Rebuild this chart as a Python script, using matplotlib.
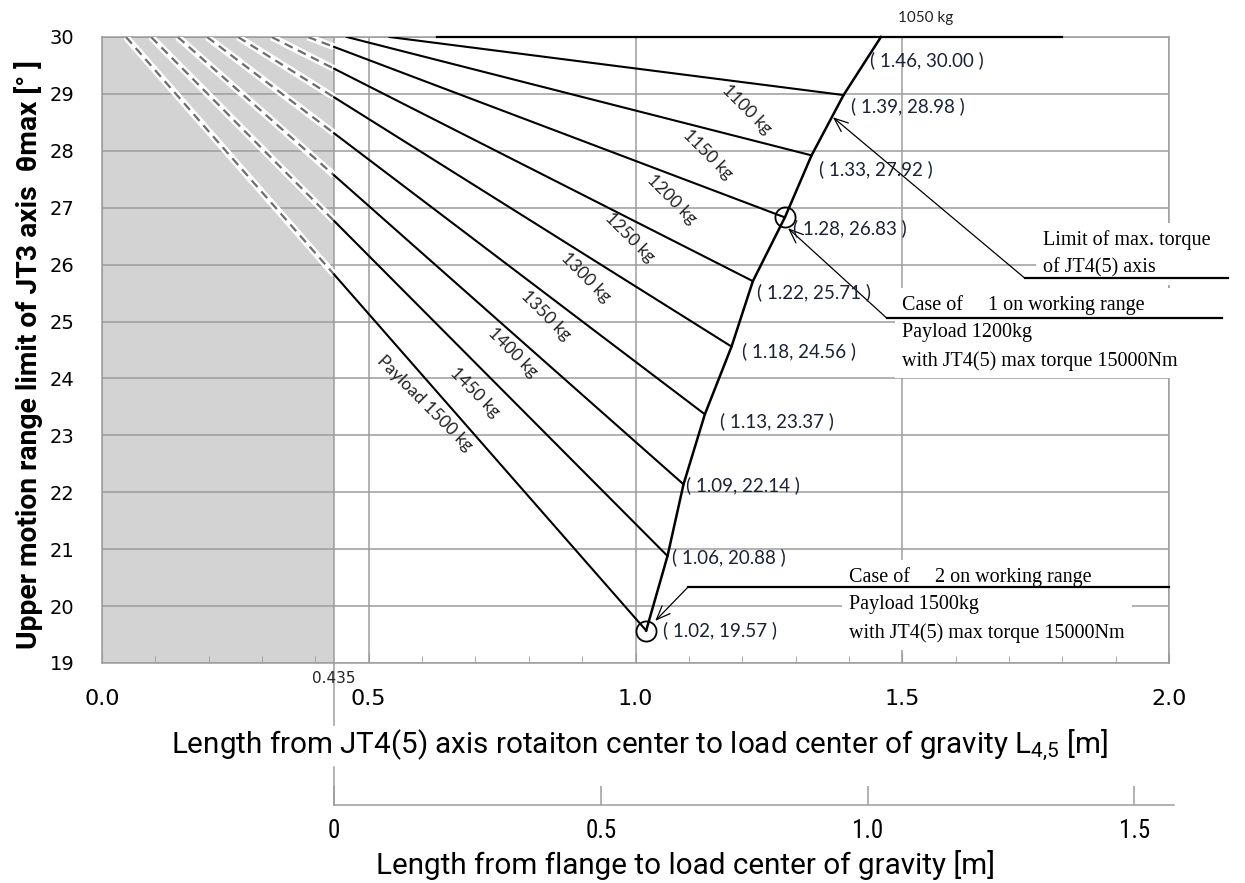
import matplotlib.pyplot as plt
import matplotlib.transforms as mtransforms
from matplotlib import font_manager
import numpy as np

# payload lines: each leaves theta=30 at start_L and ends on the torque-limit curve
payloads = [1100, 1150, 1200, 1250, 1300, 1350, 1400, 1450, 1500]
start_L = [0.539, 0.459, 0.386, 0.318, 0.255, 0.197, 0.142, 0.092, 0.045]
end_L = [1.39, 1.33, 1.28, 1.22, 1.18, 1.13, 1.09, 1.06, 1.02]
end_theta = [28.98, 27.92, 26.83, 25.71, 24.56, 23.37, 22.14, 20.88, 19.57]
top_theta = 30.0

# 1050 kg runs along theta=30
line_1050_L = [0.627, 1.80]
limit_top_L = 1.46

flange_offset = 0.435  # L45 of the flange

# marked cases (circles)
case_L = [1.28, 1.02]
case_theta = [26.83, 19.57]

flange_ticks = [0, 0.5, 1.0, 1.5]
flange_labels = ['0', '0.5', '1.0', '1.5']

px = 1 / 1.389  # pixel -> point at 100 dpi


# look for a narrow sans family for the secondary tick labels
def find_narrow():
    want = ['Liberation Sans Narrow', 'DejaVu Sans Condensed', 'Roboto Condensed',
            'Open Sans Condensed', 'Noto Sans Condensed', 'Arial Narrow']
    names = {f.name for f in font_manager.fontManager.ttflist}
    for n in want:
        if n in names:
            return n
    return None


nname = find_narrow()
tick2_family = [nname, 'DejaVu Sans'] if nname else ['DejaVu Sans']
tick2_size = 18 if nname else 15

label_family = ['Roboto', 'DejaVu Sans']
serif = ['Liberation Serif', 'DejaVu Serif']
calib = ['Lato', 'DejaVu Sans']
plt.rcParams['mathtext.fontset'] = 'custom'
plt.rcParams['mathtext.rm'] = 'Roboto'
plt.rcParams['mathtext.it'] = 'Roboto'

W, H = 1245, 883
fig = plt.figure(figsize=(W / 100, H / 100), dpi=100)
ax = fig.add_axes([102 / W, 1 - 663 / H, 1067 / W, 626 / H])
ax.set_xlim(0, 2.0)
ax.set_ylim(19, 30)

grid_c = '#9c9c9c'
ax.axvspan(0, flange_offset, color='#d3d3d3', zorder=0.2, lw=0)
ax.set_axisbelow(True)
ax.grid(True, color=grid_c, lw=1.1)
ax.axvline(flange_offset, color=grid_c, lw=1.1, zorder=0.6)
for s in ax.spines.values():
    s.set_color(grid_c)
    s.set_linewidth(1.1)

ax.set_xticks([0.0, 0.5, 1.0, 1.5, 2.0])
ax.set_xticklabels(['0.0', '0.5', '1.0', '1.5', '2.0'])
ax.set_xticks(np.arange(0, 2.01, 0.1), minor=True)
ax.set_yticks(range(19, 31))
ax.tick_params(axis='x', which='both', direction='in', color=grid_c, labelsize=16, pad=19)
ax.tick_params(axis='x', which='major', length=7)
ax.tick_params(axis='x', which='minor', length=5)
ax.tick_params(axis='y', length=0, labelsize=14, pad=20)

# payload lines: dashed inside the grey zone, solid outside
for x0, x1, y1 in zip(start_L, end_L, end_theta):
    if x0 < flange_offset:
        yc = top_theta + (y1 - top_theta) * (flange_offset - x0) / (x1 - x0)
        ax.plot([x0, flange_offset], [top_theta, yc], color='white', lw=5, solid_capstyle='butt', zorder=3)
        ax.plot([x0, flange_offset], [top_theta, yc], color='#6e6e6e', lw=1.6, ls=(0, (4, 2.6)), zorder=3.1)
        ax.plot([flange_offset, x1], [yc, y1], color='black', lw=1.5, zorder=3.2)
    else:
        ax.plot([x0, x1], [top_theta, y1], color='black', lw=1.5, zorder=3.2)

ax.plot(line_1050_L, [top_theta, top_theta], color='black', lw=1.6, zorder=3.2, clip_on=False)

# torque limit curve
lim_x = [limit_top_L] + end_L
lim_y = [top_theta] + end_theta
ax.plot(lim_x, lim_y, color='black', lw=1.8, zorder=3.3, clip_on=False)

ax.plot(case_L, case_theta, 'o', ms=14.5, mfc='none', mec='black', mew=1.3, zorder=3.4)

# coordinate labels
lab_off = [(-11, 23), (7, 11), (7, 14), (8, 11), (4, 11), (10, 5), (15, 7), (2, 1), (4, 1), (17, 0)]
for x, y, (dx, dy) in zip(lim_x, lim_y, lab_off):
    ax.annotate(f'( {x:.2f}, {y:.2f} )', (x, y), xytext=(dx * px, -dy * px), textcoords='offset points',
                ha='left', va='center', fontsize=13.5, family=calib, color='#1b2136', zorder=5,
                annotation_clip=False)

# payload names along the lines
kg_pos = [(1.209, 28.72), (1.136, 27.93), (1.068, 27.14), (0.990, 26.47), (0.907, 25.78),
          (0.832, 25.11), (0.769, 24.45), (0.699, 23.76), (0.605, 23.57)]
for p, (x, y) in zip(payloads, kg_pos):
    txt = f'{p} kg' if p != 1500 else 'Payload 1500 kg'
    ax.text(x, y, txt, rotation=-45, rotation_mode='anchor', ha='center', va='center',
            fontsize=12.5, family=calib, color='#222222', zorder=5)
ax.text(1.543, 30.33, '1050 kg', ha='center', va='center', fontsize=11, family=calib,
        color='#222222', clip_on=False)

# call-outs
box = dict(boxstyle='square,pad=0.35', fc='white', ec='none')
arrow = dict(arrowstyle='->,head_length=1.0,head_width=0.4', lw=0.9, color='black', shrinkA=0, shrinkB=0)

ax.text(1.764, 26.19, 'Limit of max. torque\nof JT4(5) axis', ha='left', va='center',
        fontsize=14.5, family=serif, linespacing=1.6, bbox=box, zorder=4, clip_on=False)
ax.plot([1.730, 2.11], [25.76, 25.76], color='black', lw=1.6, clip_on=False, zorder=4.5)
ax.annotate('', xy=(1.370, 28.59), xytext=(1.730, 25.76), arrowprops=arrow, zorder=4.5)

ax.text(1.500, 24.80, 'Case of     1 on working range\nPayload 1200kg\nwith JT4(5) max torque 15000Nm',
        ha='left', va='center', fontsize=14.5, family=serif, linespacing=1.6, bbox=box, zorder=4,
        clip_on=False)
ax.plot([1.471, 2.099], [25.06, 25.06], color='black', lw=1.6, clip_on=False, zorder=4.5)
ax.annotate('', xy=(1.286, 26.64), xytext=(1.471, 25.06), arrowprops=arrow, zorder=4.5)

ax.text(1.400, 20.02, 'Case of     2 on working range\nPayload 1500kg\nwith JT4(5) max torque 15000Nm',
        ha='left', va='center', fontsize=14.5, family=serif, linespacing=1.6, bbox=box, zorder=4,
        clip_on=False)
ax.plot([1.098, 2.0], [20.33, 20.33], color='black', lw=1.6, clip_on=False, zorder=4.5)
ax.annotate('', xy=(1.037, 19.74), xytext=(1.098, 20.33), arrowprops=arrow, zorder=4.5)

# flange-offset marker below the axis
trans = mtransforms.blended_transform_factory(ax.transData, ax.transAxes)
ax.text(flange_offset, -0.024, '0.435', transform=trans, ha='center', va='center', fontsize=11,
        family=['DejaVu Sans'], color='#222222')
ax.plot([flange_offset, flange_offset], [0, -0.099], transform=trans, color=grid_c, lw=1.1, clip_on=False)
ax.plot([flange_offset, flange_offset], [-0.166, -0.227], transform=trans, color=grid_c, lw=1.1, clip_on=False)

# second axis: length from flange (same scale, shifted by the flange offset)
ax2 = fig.add_axes([102 / W, 1 - 805 / H, 1067 / W, 1e-4])
ax2.set_xlim(ax.get_xlim()[0] - flange_offset, ax.get_xlim()[1] - flange_offset)
ax2.set_yticks([])
ax2.patch.set_visible(False)
for k in ('top', 'left', 'right'):
    ax2.spines[k].set_visible(False)
ax2.spines['bottom'].set_color(grid_c)
ax2.spines['bottom'].set_linewidth(1.1)
ax2.spines['bottom'].set_bounds(0, 1.575)
ax2.tick_params(axis='x', direction='in', length=14, color=grid_c, pad=10, width=1.1,
                labelsize=tick2_size)
ax2.set_xticks(flange_ticks)
ax2.set_xticklabels(flange_labels, fontsize=tick2_size, family=tick2_family)

ax.set_xlabel('Length from JT4(5) axis rotaiton center to load center of gravity L$_{4{,}5}$ [m]',
              fontsize=21.3, family=label_family)
ax.xaxis.set_label_coords(0.504, -0.131)
ax.xaxis.label.set_va('center')
ax.text(0.547, -0.323, 'Length from flange to load center of gravity [m]', transform=ax.transAxes,
        ha='center', va='center', fontsize=21.3, family=label_family)

ax.set_ylabel('Upper motion range limit of JT3 axis  θmax [° ]', fontsize=20.3, family=label_family,
              fontweight='bold')
ax.yaxis.set_label_coords(-0.069, 0.493)
ax.yaxis.label.set_va('center')

fig.savefig('out.png', dpi=100)
